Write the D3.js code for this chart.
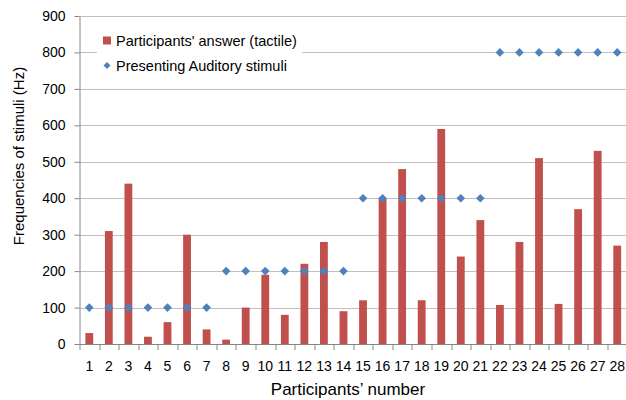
<!DOCTYPE html>
<html>
<head>
<meta charset="utf-8">
<script src="https://cdn.jsdelivr.net/npm/d3@7"></script>
<style>
  body { margin: 0; background: #fff; }
  text { font-family: "Liberation Sans", Arial, sans-serif; fill: #000; }
  .grid line { stroke: #bfbfbf; }
  .axis path, .axis line { stroke: #868686; }
</style>
</head>
<body>
<div id="chart"></div>
<script>
  // chart data
  const participants = d3.range(1, 29);
  const answers = [30, 310, 440, 20, 60, 300, 40, 12, 100, 190, 80, 220, 280, 90,
                   120, 400, 480, 120, 590, 240, 340, 107, 280, 510, 110, 370, 530, 270];
  const stimuli = [100, 100, 100, 100, 100, 100, 100, 200, 200, 200, 200, 200, 200, 200,
                   400, 400, 400, 400, 400, 400, 400, 800, 800, 800, 800, 800, 800, 800];
  const yTicks = [0, 100, 200, 300, 400, 500, 600, 700, 800, 900];

  const width = 626, height = 400;
  const margin = {top: 16, right: -1, bottom: 56, left: 79.5};
  const w = width - margin.left - margin.right;
  const h = height - margin.top - margin.bottom;

  const svg = d3.select("#chart").append("svg")
                .attr("width", width)
                .attr("height", height);
  const g = svg.append("g").attr("transform", `translate(${margin.left},${margin.top})`);

  // scales
  const xb = d3.scaleBand().domain(participants).range([0, w]);
  const y = d3.scaleLinear().domain([0, 900]).range([h, 0]);

  // gridlines
  g.append("g").attr("class", "grid")
    .selectAll("line").data(yTicks.slice(1)).join("line")
      .attr("x1", 0).attr("x2", w)
      .attr("y1", d => Math.round(y(d)) + 0.5).attr("y2", d => Math.round(y(d)) + 0.5);

  // bars (gap width 150%)
  g.selectAll(".bar").data(answers).join("rect")
    .attr("class", "bar")
    .attr("x", (d, i) => xb(participants[i]) + xb.bandwidth() * 0.3)
    .attr("width", xb.bandwidth() * 0.4)
    .attr("y", d => y(d))
    .attr("height", d => h - y(d))
    .attr("fill", "#c0504d");

  // diamonds
  const diamond = d3.symbol().type(d3.symbolDiamond2).size(48);
  g.selectAll(".pt").data(stimuli).join("path")
    .attr("class", "pt")
    .attr("transform", (d, i) => `translate(${xb(participants[i]) + xb.bandwidth() / 2},${y(d)})`)
    .attr("d", diamond)
    .attr("fill", "#4f81bd");

  // y axis
  const yAxis = g.append("g").attr("class", "axis")
    .call(d3.axisLeft(y).tickValues(yTicks).tickSizeInner(5).tickSizeOuter(0).tickPadding(9));
  yAxis.selectAll("text").style("font-size", "14px");

  // x axis with ticks on category boundaries
  const xAxis = g.append("g").attr("class", "axis")
    .attr("transform", `translate(0,${h})`)
    .call(d3.axisBottom(xb).tickSize(0).tickPadding(17));
  xAxis.select(".domain").attr("d", `M0,0.5H${w}`);
  xAxis.selectAll("text").style("font-size", "14px");
  xAxis.selectAll(".bound").data(participants).join("line")
    .attr("class", "bound")
    .attr("x1", d => Math.round(xb(d)) + 0.5).attr("x2", d => Math.round(xb(d)) + 0.5)
    .attr("y1", 0).attr("y2", 6);

  // axis titles
  svg.append("text")
    .attr("x", 348).attr("y", 395)
    .attr("text-anchor", "middle")
    .style("font-size", "17px")
    .text("Participants’ number");
  svg.append("text")
    .attr("transform", "translate(24,156) rotate(-90)")
    .attr("text-anchor", "middle")
    .style("font-size", "15px")
    .text("Frequencies of stimuli (Hz)");

  // legend
  const legend = svg.append("g").attr("transform", "translate(97,30)");
  legend.append("rect").attr("width", 205).attr("height", 42).attr("fill", "#fff");
  legend.append("rect").attr("x", 6).attr("y", 6.5).attr("width", 8).attr("height", 8).attr("fill", "#c0504d");
  legend.append("text").attr("x", 19).attr("y", 15.5).style("font-size", "14.5px").text("Participants' answer (tactile)");
  legend.append("path").attr("transform", "translate(10,35.5)").attr("d", d3.symbol().type(d3.symbolDiamond2).size(32)).attr("fill", "#4f81bd");
  legend.append("text").attr("x", 19).attr("y", 40.5).style("font-size", "14.5px").text("Presenting Auditory stimuli");
</script>
</body>
</html>
